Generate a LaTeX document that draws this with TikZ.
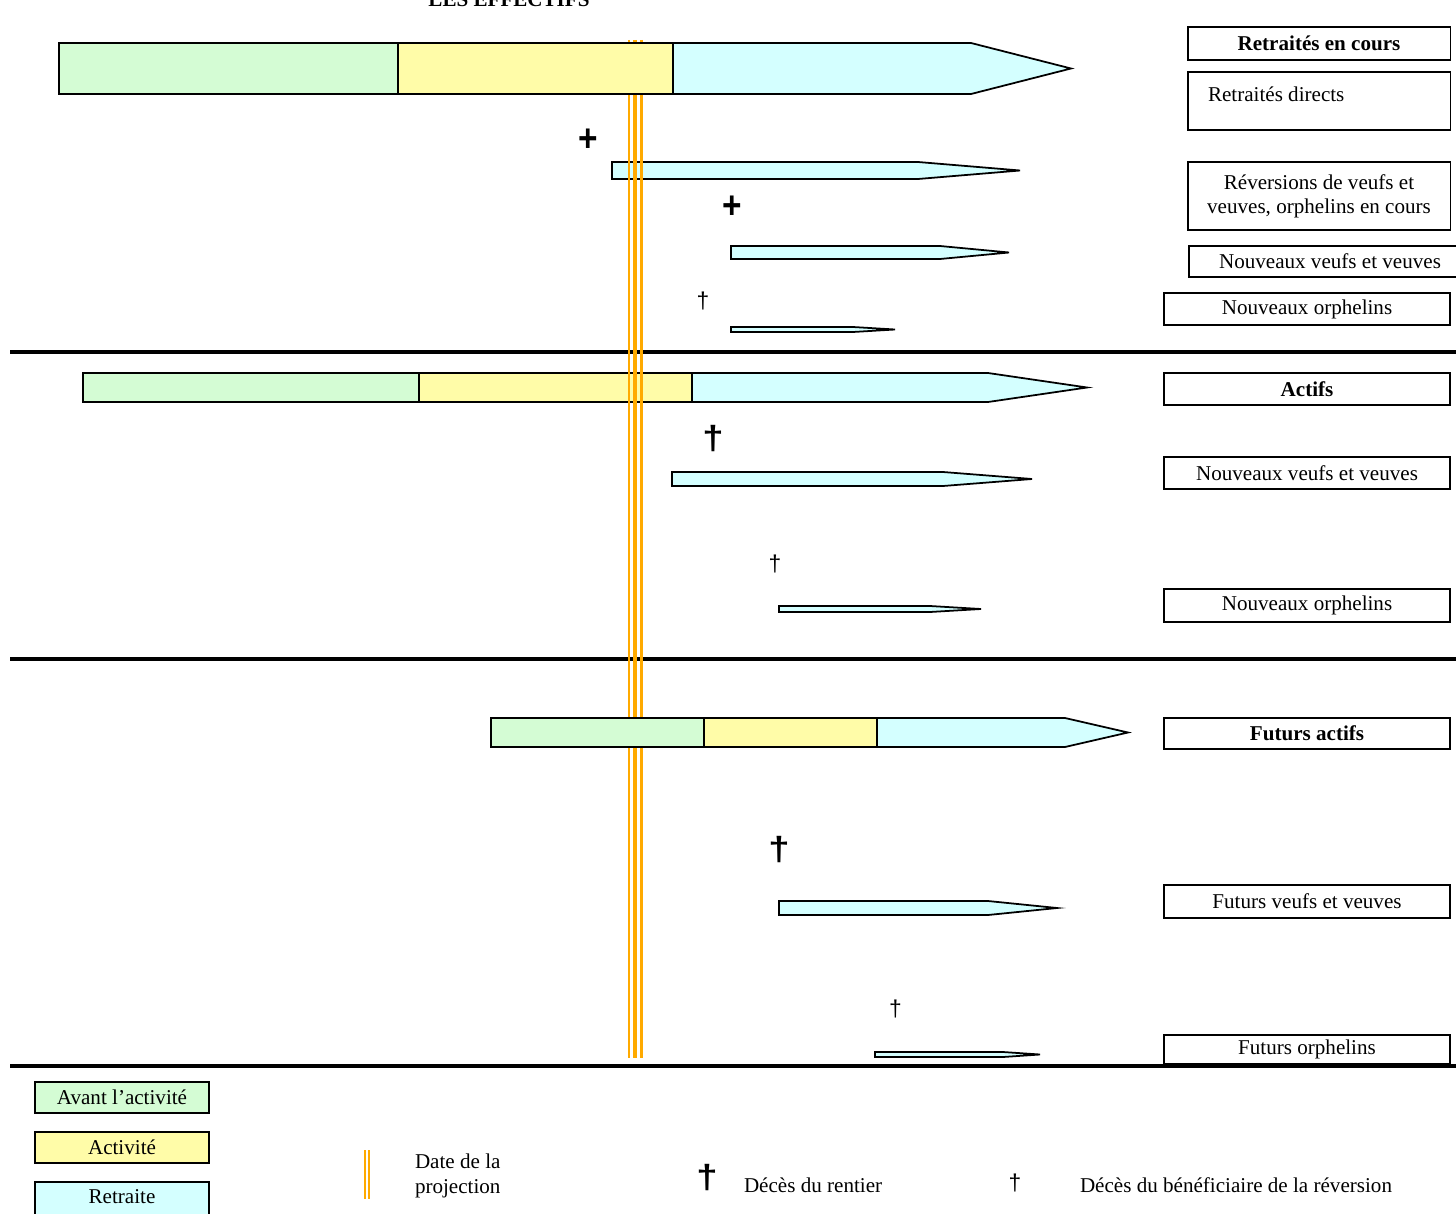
\documentclass[tikz,border=0pt]{standalone}
\usepackage{fontspec}
\setmainfont{Liberation Serif}
\newfontfamily\crossfont{Liberation Sans}
\usetikzlibrary{positioning}
\definecolor{avant}{RGB}{212,252,212}
\definecolor{activ}{RGB}{255,252,168}
\definecolor{retr}{RGB}{212,255,255}
\definecolor{proj}{RGB}{255,170,0}
\newcommand{\px}{0.5669pt}
\newcommand{\lifebar}[7]{%
    \draw[bar, fill=avant] (#1,#6) rectangle (#2,#7);
    \draw[bar, fill=activ] (#2,#6) rectangle (#3,#7);
    \draw[bar, fill=retr] (#3,#6) -- (#4,#6) -- (#5,{(#6+#7)/2}) -- (#4,#7) -- (#3,#7) -- cycle;
}
\newcommand{\pointbar}[5]{%
    \draw[bar, fill=retr] (#1,#4) -- (#2,#4) -- (#3,{(#4+#5)/2}) -- (#2,#5) -- (#1,#5) -- cycle;
}
\tikzset{
every node/.style={font=\fontsize{12}{14}\selectfont, inner sep=0pt, outer sep=0pt},
heading/.style={font=\fontsize{12}{14}\selectfont\bfseries},
bar/.style={draw, line width=1pt, line join=miter},
lbl/.style 2 args={draw, line width=1.1pt, minimum width=#1*\px, minimum height=#2*\px, align=center},
legbox/.style={draw, line width=1.1pt, minimum width=174*\px, minimum height=31*\px},
rule/.style={line width=#1},
projline/.style={draw=proj, line width=#1},
plusdeces/.style={font=\fontsize{19}{19}\crossfont\bfseries, yscale=1.15},
deces/.style={font=\fontsize{19}{19}\crossfont\bfseries, xscale=1.15},
dague/.style={font=\fontsize{13}{13}\crossfont},
}

\begin{document}
\begin{tikzpicture}[x=0.02cm, y=-0.02cm]

    \useasboundingbox (0,0) rectangle (1456,1213);

    \pointbar{612}{918}{1020}{162}{179}
    \draw[rule=2.3pt] (10,352) -- (1460,352);
    \draw[rule=2.3pt] (10,659) -- (1460,659);
    \draw[rule=2.8pt] (10,1066) -- (1460,1066);
    \lifebar{83}{419}{692}{988}{1087}{373}{402}

    \draw[projline=1.2pt] (629,40) -- (629,1058);
    \draw[projline=2.4pt] (635,40) -- (635,1058);
    \draw[projline=1.2pt] (641.5,40) -- (641.5,1058);

    \lifebar{59}{398}{673}{971}{1071}{43}{94}
    \lifebar{491}{704}{877}{1065}{1128}{718}{747}
    \pointbar{731}{940}{1009}{246}{259}
    \pointbar{731}{853}{895}{327}{332}
    \pointbar{672}{943}{1032}{472}{486}
    \pointbar{779}{930}{981}{606}{612}
    \pointbar{779}{988}{1057}{901}{915}
    \pointbar{875}{1003}{1040}{1052}{1057}

    \node[heading, anchor=base] (titre) at (509,7) {LES EFFECTIFS};

    \node[plusdeces] (c1) at (588,140) {+};
    \node[plusdeces] (c2) at (732,207) {+};
    \node[dague] (c3) at (703,301) {†};
    \node[deces] (c4) at (713,439) {†};
    \node[dague] (c5) at (775,563.5) {†};
    \node[deces] (c6) at (779,849.5) {†};
    \node[dague] (c7) at (895.5,1009) {†};

    \node[lbl={264}{33}, heading] (r0) at (1319,43.5) {Retraités en cours};
    \node[lbl={264}{58}] (r1) at (1319,101) {};
    \node[anchor=west] (r1t) at (1208,94) {Retraités directs};
    \node[lbl={264}{68}, font=\fontsize{12}{13.6}\selectfont] (r2) at (1319,196) {Réversions de veufs et\\veuves, orphelins en cours};
    \node[lbl={284}{31}] (r3) at (1330,261.5) {Nouveaux veufs et veuves};
    \node[lbl={288}{32}] (r4) at (1307,309) {Nouveaux orphelins};

    \node[lbl={288}{32}, heading] (a0) at (1307,389) {Actifs};
    \node[lbl={288}{32}] (a1) at (1307,473) {Nouveaux veufs et veuves};
    \node[lbl={288}{33}] (a2) at (1307,605.5) {Nouveaux orphelins};

    \node[lbl={288}{31}, heading] (f0) at (1307,733.5) {Futurs actifs};
    \node[lbl={288}{33}] (f1) at (1307,901.5) {Futurs veufs et veuves};
    \node[lbl={288}{29}] (f2) at (1307,1049.5) {Futurs orphelins};

    \node[legbox, fill=avant] (av) at (122,1097.5) {Avant l’activité};
    \node[legbox, fill=activ, below=0.38cm of av] (ac) {Activité};
    \node[legbox, fill=retr, minimum height=36*\px, text depth=3.6pt, below=0.38cm of ac] (re) {Retraite};

    \draw[projline=1.4pt] (365,1150) -- (365,1199);
    \draw[projline=0.8pt] (369,1150) -- (369,1199);
    \node[anchor=west, align=left, font=\fontsize{12}{14.2}\selectfont] (dp) at (415,1175.5) {Date de la\\projection};

    \node[deces] (lc) at (707,1178) {†};
    \node[anchor=west] (lct) at (744,1185) {Décès du rentier};
    \node[dague] (ld) at (1015,1183) {†};
    \node[anchor=west] (ldt) at (1080,1185) {Décès du bénéficiaire de la réversion};

\end{tikzpicture}
\end{document}
